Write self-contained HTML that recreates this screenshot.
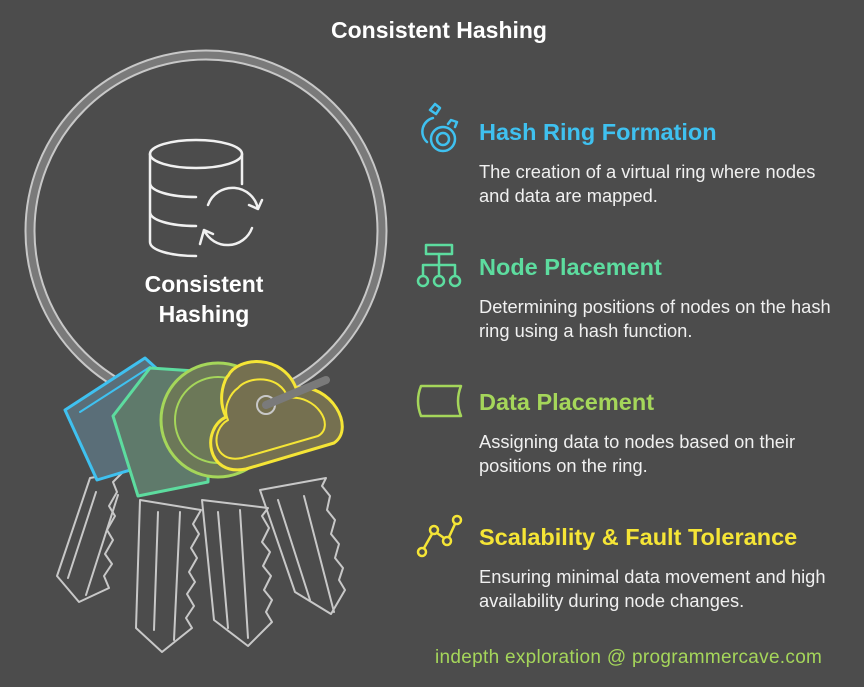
<!DOCTYPE html>
<html><head><meta charset="utf-8"><style>
body{margin:0;width:864px;height:687px;background:#4c4c4c;overflow:hidden;font-family:"Liberation Sans",sans-serif;position:relative}
.t{position:absolute;font-weight:bold;font-size:23.5px}
.d{position:absolute;color:#f0f0f0;font-size:18.3px;line-height:24px}
</style></head><body>
<div style="position:absolute;left:0;width:878px;top:17px;text-align:center;color:#fff;font-weight:bold;font-size:23px">Consistent Hashing</div>
<svg width="864" height="687" style="position:absolute;left:0;top:0" fill="none" stroke-linecap="round" stroke-linejoin="round">
<circle cx="206" cy="231" r="176" stroke="#c8c8c8" stroke-width="11"/>
<circle cx="206" cy="231" r="176" stroke="#7a7a7a" stroke-width="7"/>
<g stroke="#f0f0f0" stroke-width="2.5">
<ellipse cx="196" cy="154" rx="46" ry="14"/>
<path d="M150 154v88c0 8 20 14 46 14M242 154v30M150 183c0 8 20 14 46 14M150 212c0 8 20 14 46 14"/>
<path d="M208 205a26 26 0 0 1 50 4M262 200l-4 9-9-4M252 228a26 26 0 0 1-48 2M200 244l4-14 9 4"/>
</g>
<text x="204" y="292" text-anchor="middle" fill="#fff" font-size="23" font-weight="bold" font-family="Liberation Sans">Consistent</text>
<text x="204" y="322" text-anchor="middle" fill="#fff" font-size="23" font-weight="bold" font-family="Liberation Sans">Hashing</text>
<g stroke="#c8c8c8" stroke-width="2">
<path d="M90 478l-33 98 22 26 30-14 -5-12 8-12-7-10 8-14-6-10 8-14-6-10 8-14-4-10 10-10z"/>
<path d="M96 492l-28 86M118 495l-32 100"/>
<path d="M140 500l-4 128 26 24 30-24-6-10 8-12-7-12 8-12-6-10 8-14-6-10 8-14-6-10 8-14z"/>
<path d="M158 512l-4 118M180 512l-6 128"/>
<path d="M202 500l12 120 34 26 24-24-6-10 6-12-8-10 7-14-8-10 7-14-8-10 7-14-7-12 6-8z"/>
<path d="M218 512l10 116M240 510l8 128"/>
<path d="M260 490l35 102 36 22 14-24-6-10 4-12-8-10 4-14-8-10 4-14-8-10 3-14-8-10 4-8z"/>
<path d="M278 500l32 100M304 496l30 116"/>
</g>
<path d="M65 410l80-52 22 20-30 90-40 12z" fill="#5a6e78" stroke="#3fc1f0" stroke-width="3"/>
<path d="M80 412l70-45" stroke="#3fc1f0" stroke-width="2"/>
<path d="M150 368l60 4-2 110-70 14-25-80z" fill="#5f7a6b" stroke="#5ddc9f" stroke-width="3"/>
<circle cx="218" cy="420" r="57" fill="#6c7858" stroke="#a5d65a" stroke-width="3"/>
<circle cx="218" cy="420" r="43" stroke="#a5d65a" stroke-width="2"/>
<path d="M228 376c10-20 55-22 68 12 35-5 60 40 38 55l-88 26c-40 8-45-40-20-52-10-20 0-40 2-41z" fill="#757050" stroke="#f5e536" stroke-width="3"/>
<path d="M238 388c10-12 42-14 50 10 28-4 48 28 30 38l-76 22c-30 6-32-28-14-38-6-14 4-28 10-32z" stroke="#f5e536" stroke-width="2"/>
<circle cx="266" cy="405" r="9" stroke="#c8c8c8" stroke-width="2"/>
<path d="M266 405l60-25" stroke="#7a7a7a" stroke-width="8"/>
<g stroke="#3fc1f0" stroke-width="2.5"><circle cx="443" cy="139" r="12"/><circle cx="443" cy="139" r="6"/><path d="M433 118a14 14 0 0 0-6 24"/><path d="M430 110l5-6 5 4-4 6z"/><path d="M448 124l3-4 6 2-2 5"/></g>
<g stroke="#5ddc9f" stroke-width="2.5"><rect x="426" y="245" width="26" height="9"/><path d="M439 254v20M423 265h32v10M439 265v10M423 265v10"/><circle cx="423" cy="281" r="5"/><circle cx="439" cy="281" r="5"/><circle cx="455" cy="281" r="5"/></g>
<path d="M421 386h40c-4 10-4 20 0 30h-40c-4-10-4-20 0-30z" stroke="#a5d65a" stroke-width="2.5"/>
<g stroke="#f5e536" stroke-width="2.5"><circle cx="422" cy="552" r="4"/><circle cx="434" cy="530" r="4"/><circle cx="447" cy="541" r="4"/><circle cx="457" cy="520" r="4"/><path d="M424 548l8-14M437 533l7 5M449 537l6-13"/></g>
</svg>
<div class="t" style="left:479px;top:119px;color:#3fc1f0">Hash Ring Formation</div>
<div class="d" style="left:479px;top:160px">The creation of a virtual ring where nodes<br>and data are mapped.</div>
<div class="t" style="left:479px;top:254px;color:#5ddc9f">Node Placement</div>
<div class="d" style="left:479px;top:295px">Determining positions of nodes on the hash<br>ring using a hash function.</div>
<div class="t" style="left:479px;top:389px;color:#a5d65a">Data Placement</div>
<div class="d" style="left:479px;top:430px">Assigning data to nodes based on their<br>positions on the ring.</div>
<div class="t" style="left:479px;top:524px;color:#f5e536">Scalability &amp; Fault Tolerance</div>
<div class="d" style="left:479px;top:565px">Ensuring minimal data movement and high<br>availability during node changes.</div>
<div style="position:absolute;left:435px;top:647px;color:#a5d65a;font-size:19px;letter-spacing:0.3px">indepth exploration @ programmercave.com</div>
</body></html>
